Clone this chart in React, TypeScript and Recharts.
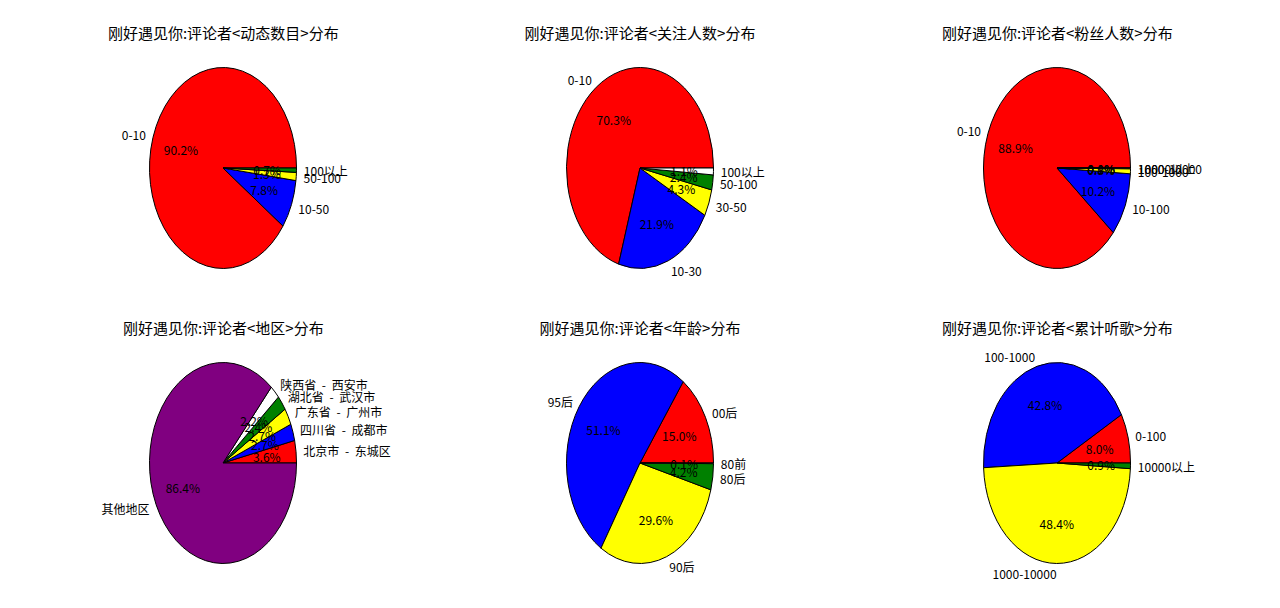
import React from 'react';
import { PieChart, Pie, Cell } from 'recharts';

// slice colours, in matplotlib order
const colors = ['red', 'blue', 'yellow', 'green', 'white', 'purple'];

const dynamicLabels = ['0-10', '10-50', '50-100', '100以上'];
const dynamicValues = [90.2, 7.8, 1.3, 0.7];

const followLabels = ['0-10', '10-30', '30-50', '50-100', '100以上'];
const followValues = [70.3, 21.9, 4.3, 2.4, 1.1];

const fanLabels = ['0-10', '10-100', '100-1000', '1000-10000', '10000以上'];
const fanValues = [88.9, 10.2, 0.8, 0.1, 0.02];

const regionLabels = ['北京市 - 东城区', '四川省 - 成都市', '广东省 - 广州市', '湖北省 - 武汉市', '陕西省 - 西安市', '其他地区'];
const regionValues = [3.6, 2.7, 2.7, 2.4, 2.2, 86.4];

const ageLabels = ['00后', '95后', '90后', '80后', '80前'];
const ageValues = [15.0, 51.1, 29.6, 4.2, 0.1];

const listenLabels = ['0-100', '100-1000', '1000-10000', '10000以上'];
const listenValues = [8.0, 42.8, 48.4, 0.9];

const panels = [
  { title: '刚好遇见你:评论者<动态数目>分布', labels: dynamicLabels, values: dynamicValues, cx: 223.3, cy: 168 },
  { title: '刚好遇见你:评论者<关注人数>分布', labels: followLabels, values: followValues, cx: 640, cy: 168 },
  { title: '刚好遇见你:评论者<粉丝人数>分布', labels: fanLabels, values: fanValues, cx: 1057.3, cy: 168 },
  { title: '刚好遇见你:评论者<地区>分布', labels: regionLabels, values: regionValues, cx: 223.3, cy: 463.3 },
  { title: '刚好遇见你:评论者<年龄>分布', labels: ageLabels, values: ageValues, cx: 640, cy: 463.3 },
  { title: '刚好遇见你:评论者<累计听歌>分布', labels: listenLabels, values: listenValues, cx: 1057.3, cy: 463.3 },
];

const W = 420;
const H = 300;
const R = 100.5;
const X_SCALE = 73.5 / 100.5;
const FONT = '"Noto Sans CJK SC", "Noto Sans", sans-serif';

const renderLabel = (props: any) => {
  const { cx, cy, midAngle, outerRadius, percent, name } = props;
  const rad = (Math.PI / 180) * midAngle;
  const cos = Math.cos(rad);
  const sin = Math.sin(rad);
  const rx = outerRadius * X_SCALE;
  const ry = outerRadius;
  return (
    <g>
      <text x={cx + 1.1 * rx * cos} y={cy - 1.1 * ry * sin} textAnchor={cos > 0 ? 'start' : 'end'}
        dominantBaseline="central" fontSize={12} fill="#000" fontFamily={FONT}
        style={{ wordSpacing: 3 }}>
        {name}
      </text>
      <text x={cx + 0.6 * rx * cos} y={cy - 0.6 * ry * sin} textAnchor="middle"
        dominantBaseline="central" fontSize={12} fill="#000" fontFamily={FONT}>
        {(percent * 100).toFixed(1)}%
      </text>
    </g>
  );
};

function PiePanel({ title, labels, values, cx, cy }: any) {
  const data = labels.map((name: string, i: number) => ({ name, value: values[i] }));
  return (
    <div className="ell" style={{ position: 'absolute', left: cx - W / 2, top: cy - H / 2, width: W, height: H }}>
      <div style={{ position: 'absolute', left: 0, top: 5, width: W, height: 20, lineHeight: '20px', textAlign: 'center', fontSize: 15, fontFamily: FONT, color: '#000', whiteSpace: 'nowrap' }}>
        {title}
      </div>
      <PieChart width={W} height={H} margin={{ top: 0, right: 0, bottom: 0, left: 0 }}>
        <Pie data={data} dataKey="value" nameKey="name" cx={W / 2} cy={H / 2} outerRadius={R}
          startAngle={0} endAngle={360} stroke="#000" strokeWidth={1} labelLine={false}
          label={renderLabel} isAnimationActive={false}>
          {data.map((_: any, i: number) => (
            <Cell key={`cell-${i}`} fill={colors[i]} />
          ))}
        </Pie>
      </PieChart>
    </div>
  );
}

export default function App() {
  return (
    <div style={{ position: 'absolute', left: 0, top: 0, width: 1280, height: 608, background: '#fff', overflow: 'hidden' }}>
      <style>{`
        .ell path.recharts-sector {
          transform-origin: ${W / 2}px ${H / 2}px;
          transform: scaleX(${X_SCALE});
          vector-effect: non-scaling-stroke;
        }
      `}</style>
      {panels.map((p) => (
        <PiePanel key={p.title} {...p} />
      ))}
    </div>
  );
}
